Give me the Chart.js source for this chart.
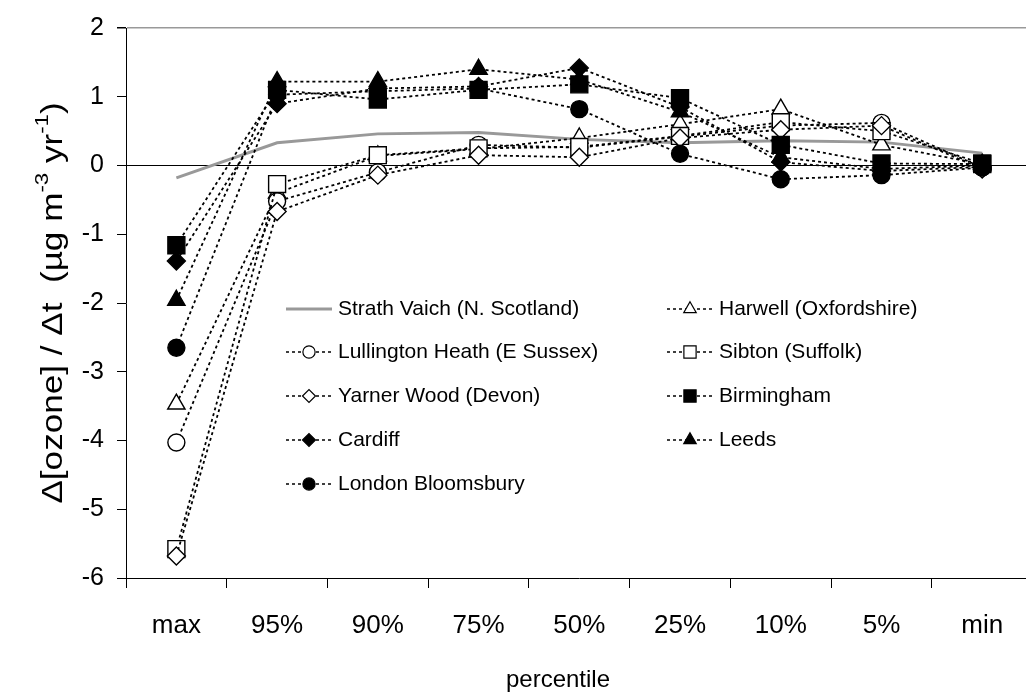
<!DOCTYPE html>
<html>
<head>
<meta charset="utf-8">
<script src="https://cdn.jsdelivr.net/npm/chart.js@4.4.0/dist/chart.umd.min.js"></script>
<style>
  html, body { margin: 0; padding: 0; background: #fff; overflow: hidden; }
  #wrap { position: relative; width: 1046px; height: 693px; }
</style>
</head>
<body>
<div id="wrap"><canvas id="chart-ozono"></canvas></div>
<script>
'use strict';

// Datos (tendencia de ozono por percentil)
const percentiles = ['max', '95%', '90%', '75%', '50%', '25%', '10%', '5%', 'min'];

const strathVaich = [-0.18, 0.33, 0.46, 0.48, 0.38, 0.33, 0.36, 0.34, 0.18];
const harwell     = [-3.47, -0.40, 0.14, 0.24, 0.40, 0.60, 0.82, 0.30, 0.02];
const lullington  = [-4.03, -0.52, -0.10, 0.30, 0.26, 0.42, 0.58, 0.62, -0.03];
const sibton      = [-5.58, -0.27, 0.15, 0.25, 0.27, 0.43, 0.63, 0.50, 0.03];
const yarnerWood  = [-5.68, -0.67, -0.14, 0.15, 0.12, 0.40, 0.52, 0.58, -0.05];
const birmingham  = [-1.16, 1.10, 0.96, 1.10, 1.18, 0.98, 0.30, 0.03, 0.02];
const cardiff     = [-1.39, 0.90, 1.12, 1.15, 1.42, 0.85, 0.05, -0.08, -0.02];
const leeds       = [-1.96, 1.22, 1.22, 1.40, 1.25, 0.78, 0.12, -0.05, 0.00];
const londonBloom = [-2.65, 1.03, 1.08, 1.12, 0.82, 0.17, -0.20, -0.14, -0.03];

const etiquetas = [
  'Strath Vaich (N. Scotland)',
  'Harwell (Oxfordshire)',
  'Lullington Heath (E Sussex)',
  'Sibton (Suffolk)',
  'Yarner Wood (Devon)',
  'Birmingham',
  'Cardiff',
  'Leeds',
  'London Bloomsbury'
];

const tituloX = 'percentile';
// partes del título del eje Y (sup = superíndice)
const tituloY = [
  { t: '\u0394[ozone] / \u0394t  (\u00b5g m', sup: false },
  { t: '-3', sup: true },
  { t: ' yr', sup: false },
  { t: '-1', sup: true },
  { t: ')', sup: false }
];

const FUENTE = '"Liberation Sans", Arial, sans-serif';

function serieSitio(label, data, estilo, relleno, indice) {
  const radios = { circle: 8.5, rect: 12, triangle: 10, rectRot: 9 };
  return {
    label: label,
    data: data,
    order: -indice, // como en Excel: las series posteriores quedan encima
    borderColor: '#000',
    borderWidth: 1.8,
    borderDash: [3, 3],
    fill: false,
    tension: 0,
    pointStyle: estilo,
    pointRadius: radios[estilo],
    pointHoverRadius: radios[estilo],
    pointBorderWidth: 1.4,
    pointBorderColor: '#000',
    pointBackgroundColor: relleno ? '#000' : '#fff'
  };
}

// Títulos de ejes dibujados a mano (el eje Y lleva superíndices)
const titulosEjes = {
  id: 'titulosEjes',
  afterDraw(chart, args, opts) {
    const ctx = chart.ctx;
    const fNorm = opts.sizeY + 'px ' + FUENTE;
    const fSup = Math.round(opts.sizeY * 0.62) + 'px ' + FUENTE;
    ctx.save();
    ctx.translate(opts.xY, (chart.chartArea.top + chart.chartArea.bottom) / 2);
    ctx.rotate(-Math.PI / 2);
    ctx.scale(opts.estiramiento, 1);
    let total = 0;
    tituloY.forEach(function (p) {
      ctx.font = p.sup ? fSup : fNorm;
      total += ctx.measureText(p.t).width;
    });
    let x = -total / 2;
    ctx.textBaseline = 'middle';
    ctx.fillStyle = '#000';
    tituloY.forEach(function (p) {
      ctx.font = p.sup ? fSup : fNorm;
      ctx.fillText(p.t, x, p.sup ? -opts.sizeY * 0.38 : 0);
      x += ctx.measureText(p.t).width;
    });
    ctx.restore();

    ctx.save();
    ctx.font = opts.sizeX + 'px ' + FUENTE;
    ctx.fillStyle = '#000';
    ctx.textAlign = 'center';
    ctx.textBaseline = 'middle';
    ctx.fillText(tituloX, opts.xX, opts.yX);
    ctx.restore();
  }
};

// Leyenda dentro del área del gráfico, dos columnas
const leyendaInterna = {
  id: 'leyendaInterna',
  afterDatasetsDraw(chart, args, opts) {
    const ctx = chart.ctx;
    chart.data.datasets.forEach(function (ds, i) {
      const x0 = opts.columnas[i % 2];
      const y = opts.filas[Math.floor(i / 2)];
      ctx.save();
      ctx.beginPath();
      ctx.setLineDash(ds.borderDash || []);
      ctx.strokeStyle = ds.borderColor;
      ctx.lineWidth = ds.borderDash ? 1.5 : ds.borderWidth;
      ctx.moveTo(x0, y);
      ctx.lineTo(x0 + opts.largo, y);
      ctx.stroke();
      ctx.setLineDash([]);
      if (ds.pointRadius > 0) {
        ctx.fillStyle = ds.pointBackgroundColor;
        ctx.strokeStyle = ds.pointBorderColor;
        ctx.lineWidth = 1.2;
        Chart.helpers.drawPoint(ctx, {
          pointStyle: ds.pointStyle,
          radius: ds.pointRadius * opts.escala,
          borderWidth: 1.2,
          rotation: 0
        }, x0 + opts.largo / 2, y);
      }
      ctx.font = opts.size + 'px ' + FUENTE;
      ctx.fillStyle = '#000';
      ctx.textBaseline = 'middle';
      ctx.fillText(ds.label, x0 + opts.largo + opts.hueco, y);
      ctx.restore();
    });
  }
};

const datasets = [
  {
    label: etiquetas[0],
    data: strathVaich,
    order: 0,
    borderColor: '#999',
    borderWidth: 3,
    pointRadius: 0,
    pointHoverRadius: 0,
    fill: false,
    tension: 0
  },
  serieSitio(etiquetas[1], harwell, 'triangle', false, 1),
  serieSitio(etiquetas[2], lullington, 'circle', false, 2),
  serieSitio(etiquetas[3], sibton, 'rect', false, 3),
  serieSitio(etiquetas[4], yarnerWood, 'rectRot', false, 4),
  serieSitio(etiquetas[5], birmingham, 'rect', true, 5),
  serieSitio(etiquetas[6], cardiff, 'rectRot', true, 6),
  serieSitio(etiquetas[7], leeds, 'triangle', true, 7),
  serieSitio(etiquetas[8], londonBloom, 'circle', true, 8)
];

const canvas = document.getElementById('chart-ozono');
new Chart(canvas.getContext('2d'), {
  type: 'line',
  data: { labels: percentiles, datasets: datasets },
  plugins: [titulosEjes, leyendaInterna],
  options: {
    responsive: true,
    maintainAspectRatio: false,
    animation: false,
    events: [],
    layout: { padding: { top: 27, right: 9, left: 0, bottom: 0 } },
    scales: {
      x: {
        type: 'category',
        offset: true,
        grid: { offset: true, drawOnChartArea: false, color: '#000', tickLength: 10, lineWidth: 1 },
        border: { color: '#000', width: 1 },
        ticks: { font: { family: FUENTE, size: 26 }, color: '#000', padding: 22, maxRotation: 0, autoSkip: false },
        afterFit: function (s) { s.height = 115; }
      },
      y: {
        min: -6,
        max: 2,
        ticks: { stepSize: 1, font: { family: FUENTE, size: 25 }, color: '#000', padding: 13 },
        grid: {
          color: function (c) {
            if (c.tick && c.tick.value === 0) return '#000';
            if (c.tick && c.tick.value === 2) return '#999';
            return 'rgba(0,0,0,0)';
          },
          lineWidth: function (c) { return c.tick && c.tick.value === 2 ? 1.5 : 1; },
          tickColor: '#000',
          tickLength: 9
        },
        border: { color: '#000', width: 1 },
        afterFit: function (s) { s.width = 126; }
      }
    },
    plugins: {
      legend: { display: false },
      tooltip: { enabled: false },
      titulosEjes: { xY: 54, sizeY: 30, estiramiento: 1.17, xX: 558, yX: 680, sizeX: 24 },
      leyendaInterna: {
        columnas: [286, 667],
        filas: [309, 352, 396, 440, 484],
        largo: 46,
        hueco: 6,
        escala: 0.72,
        size: 21
      }
    }
  }
});
</script>
</body>
</html>
